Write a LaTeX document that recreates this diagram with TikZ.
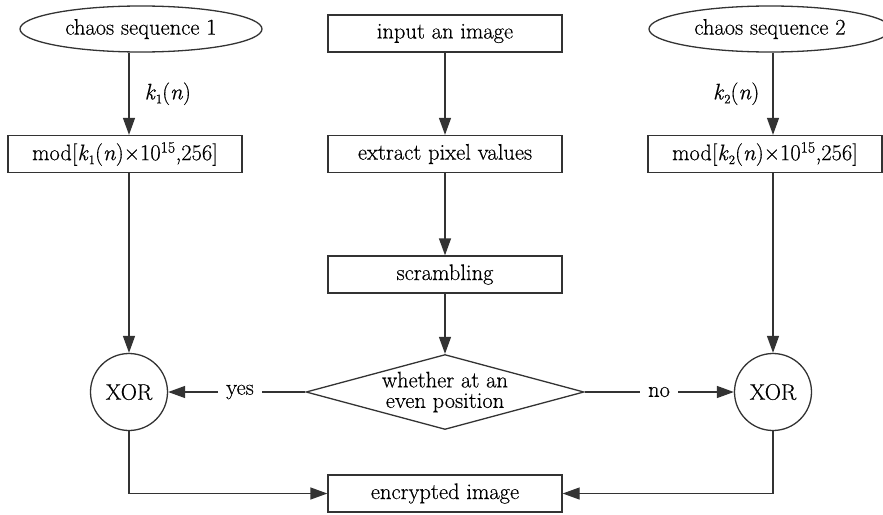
\documentclass[tikz,border=0pt]{standalone}
\usepackage{fontspec}
\setmainfont{Latin Modern Roman}[FakeBold=0.4]
\usetikzlibrary{shapes.geometric,arrows.meta}
\newcommand\figfont{\fontsize{22.5}{19}\selectfont}
\newcommand\kidx[1]{\textit{k}\raisebox{-4pt}{\fontsize{13}{13}\selectfont #1}(\textit{n})}
\begin{document}
\begin{tikzpicture}[x=1pt,y=-1pt,font=\figfont,
  line/.style={draw=black!80,line width=1.3pt},
  arr/.style={line,-{Triangle[length=17pt,width=12pt]}},
  blk/.style={line,rectangle,minimum width=234pt,minimum height=37pt,inner sep=0pt,font=\figfont},
  seq/.style={line,ellipse,minimum width=242pt,minimum height=46pt,inner sep=0pt,font=\figfont},
  xorc/.style={line,circle,minimum size=77pt,inner sep=0pt,font=\figfont},
  lbl/.style={inner sep=3pt,font=\figfont},
  branch/.style={inner xsep=8pt,inner ysep=3pt,font=\figfont}]
\useasboundingbox (0,0) rectangle (883,514);

% sources
\node[seq] (seq1) at (141,29) {chaos sequence 1};
\node[seq] (seq2) at (770,29) {chaos sequence 2};

% central column
\node[blk] (in)  at (445,33.5)  {input an image};
\node[blk] (ext) at (445,154)   {extract pixel values};
\node[blk] (scr) at (445,274.5) {scrambling};
\node[line,diamond,shape aspect=3.7,minimum width=278pt,minimum height=75pt,inner sep=0pt,
      align=center,font=\fontsize{22.5}{20.5}\selectfont] (dia) at (445,392)
  {whether at an\\even position};
\node[blk] (enc) at (445,493.5) {encrypted image};

% key streams
\node[blk] (mod1) at (125,154) {mod[\kidx{1}×10\textsuperscript{15},256]};
\node[blk] (mod2) at (765,154) {mod[\kidx{2}×10\textsuperscript{15},256]};
\node[xorc] (xor1) at (129,392) {XOR};
\node[xorc] (xor2) at (773,392) {XOR};

\node[branch] (yes) at (240,392) {yes};
\node[branch] (no)  at (659,392) {no};

% connectors
\draw[arr] (xor1 |- seq1.south) -- node[lbl,right=12pt] {\kidx{1}} (xor1 |- mod1.north);
\draw[arr] (xor2 |- seq2.south) -- node[lbl,left=10pt] {\kidx{2}} (xor2 |- mod2.north);
\draw[arr] (xor1 |- mod1.south) -- (xor1.north);
\draw[arr] (xor2 |- mod2.south) -- (xor2.north);

\draw[arr] (in.south) -- (ext.north);
\draw[arr] (ext.south) -- (scr.north);
\draw[arr] (scr.south) -- (dia.north);

\draw[line] (dia.west) -- (yes.east);
\draw[arr] (yes.west) -- (xor1.east);
\draw[line] (dia.east) -- (no.west);
\draw[arr] (no.east) -- (xor2.west);

\draw[arr] (xor1.south) |- (enc.west);
\draw[arr] (xor2.south) |- (enc.east);
\end{tikzpicture}
\end{document}
